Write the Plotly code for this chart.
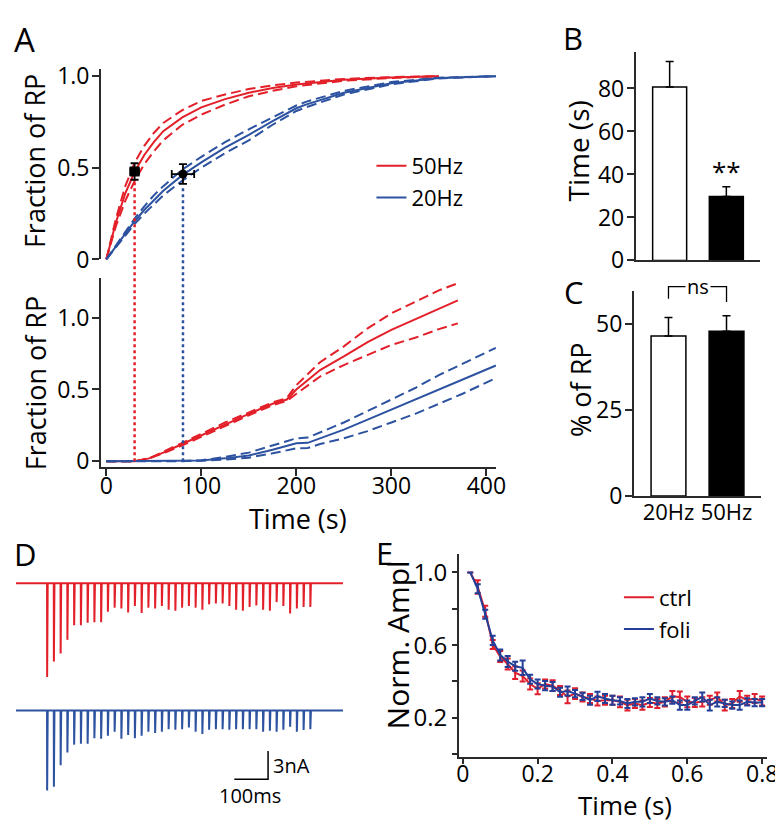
import plotly.graph_objects as go

W, H = 783, 826
FONT = "Open Sans"
RED = "#e3202a"
BLUE = "#2c52a0"
E_RED = "#df1f2d"
E_BLUE = "#233f98"
AX = "#2a2a2a"

# ---------------- DATA ----------------
# Panel A (top): cumulative fraction of RP released (mean, +SEM, -SEM)
a_top_t_50 = [0, 10, 20, 30, 40, 50, 60, 80, 100, 125, 150, 175, 200, 250, 300, 350]
a_top_mean_50 = [0, 0.20, 0.36, 0.48, 0.57, 0.64, 0.70, 0.775, 0.83, 0.875, 0.91, 0.935, 0.955, 0.98, 0.993, 1.0]
a_top_hi_50 = [0, 0.22, 0.40, 0.53, 0.62, 0.69, 0.745, 0.815, 0.865, 0.90, 0.93, 0.95, 0.965, 0.985, 0.995, 1.0]
a_top_lo_50 = [0, 0.18, 0.32, 0.43, 0.52, 0.59, 0.65, 0.735, 0.79, 0.845, 0.89, 0.92, 0.945, 0.975, 0.99, 1.0]

a_top_t_20 = [0, 10, 20, 30, 40, 50, 60, 80, 100, 125, 150, 175, 200, 210, 250, 300, 350, 410]
a_top_mean_20 = [0, 0.07, 0.14, 0.21, 0.27, 0.325, 0.375, 0.46, 0.53, 0.61, 0.68, 0.755, 0.825, 0.845, 0.91, 0.962, 0.99, 1.0]
a_top_hi_20 = [0, 0.075, 0.15, 0.225, 0.29, 0.35, 0.40, 0.49, 0.56, 0.64, 0.71, 0.775, 0.84, 0.86, 0.92, 0.968, 0.992, 1.0]
a_top_lo_20 = [0, 0.065, 0.13, 0.195, 0.25, 0.30, 0.35, 0.43, 0.50, 0.58, 0.65, 0.735, 0.81, 0.83, 0.90, 0.956, 0.988, 1.0]

# Panel A (bottom)
a_bot_t_50 = [0, 30, 45, 60, 80, 100, 125, 150, 175, 190, 200, 225, 250, 275, 300, 325, 350, 370]
a_bot_mean_50 = [0, 0, 0.02, 0.06, 0.12, 0.18, 0.26, 0.33, 0.40, 0.43, 0.50, 0.635, 0.73, 0.83, 0.915, 0.99, 1.06, 1.12]
a_bot_hi_50 = [0, 0, 0.02, 0.065, 0.13, 0.19, 0.27, 0.34, 0.41, 0.44, 0.53, 0.69, 0.80, 0.925, 1.03, 1.11, 1.19, 1.24]
a_bot_lo_50 = [0, 0, 0.02, 0.055, 0.11, 0.17, 0.25, 0.32, 0.39, 0.42, 0.47, 0.59, 0.67, 0.74, 0.81, 0.86, 0.92, 0.96]

a_bot_t_20 = [0, 80, 100, 125, 150, 175, 200, 212, 225, 250, 275, 300, 325, 350, 375, 410]
a_bot_mean_20 = [0, 0, 0.005, 0.02, 0.04, 0.08, 0.125, 0.128, 0.16, 0.22, 0.29, 0.36, 0.43, 0.50, 0.57, 0.667]
a_bot_hi_20 = [0, 0, 0.007, 0.03, 0.06, 0.11, 0.16, 0.165, 0.20, 0.27, 0.35, 0.43, 0.51, 0.60, 0.68, 0.79]
a_bot_lo_20 = [0, 0, 0.003, 0.012, 0.025, 0.055, 0.09, 0.092, 0.12, 0.16, 0.21, 0.27, 0.33, 0.40, 0.47, 0.58]

# Half-release points / panels B and C
freq_labels = ["20Hz", "50Hz"]
half_time = [80.7, 29.8]
half_time_sem = [11.8, 4.5]
pct_rp = [46.6, 48.0]
pct_rp_sem = [5.4, 4.5]

# Panel D: EPSC amplitudes (nA), 40 stimuli at 50 Hz
stim_interval_ms = 20
ctrl_amp_nA = [10.0, 8.35, 7.48, 6.03, 4.48, 4.48, 4.21, 4.14, 4.14, 3.03,
               2.59, 2.69, 3.10, 2.41, 3.17, 2.59, 2.69, 2.41, 2.82, 2.93,
               2.59, 2.41, 2.59, 2.82, 2.24, 2.14, 2.14, 2.41, 2.82, 2.93,
               2.51, 2.35, 2.82, 2.93, 2.00, 2.41, 3.21, 2.69, 2.51, 2.51]
foli_amp_nA = [8.55, 8.14, 5.86, 4.48, 3.65, 3.55, 3.55, 2.97, 3.03, 2.69,
               2.28, 3.03, 2.62, 2.97, 2.69, 2.28, 2.41, 2.28, 2.00, 2.07,
               2.00, 1.83, 2.28, 2.51, 2.07, 2.00, 2.00, 2.07, 2.00, 2.00,
               2.00, 2.00, 2.28, 2.17, 2.28, 2.07, 1.73, 2.28, 2.10, 2.00]
sweep_start_ms, sweep_end_ms = -92, 877
scalebar_ms, scalebar_nA = 100, 3

# Panel E: normalized amplitude
e_time = [0.02, 0.04, 0.06, 0.08, 0.10, 0.12, 0.14, 0.16, 0.18, 0.20,
          0.22, 0.24, 0.26, 0.28, 0.30, 0.32, 0.34, 0.36, 0.38, 0.40,
          0.42, 0.44, 0.46, 0.48, 0.50, 0.52, 0.54, 0.56, 0.58, 0.60,
          0.62, 0.64, 0.66, 0.68, 0.70, 0.72, 0.74, 0.76, 0.78, 0.80]
ctrl_norm = [1.00, 0.92, 0.786, 0.603, 0.537, 0.496, 0.448, 0.43, 0.386, 0.36,
             0.386, 0.377, 0.35, 0.315, 0.333, 0.315, 0.306, 0.293, 0.297, 0.297,
             0.288, 0.27, 0.279, 0.27, 0.284, 0.279, 0.288, 0.318, 0.315, 0.288,
             0.284, 0.288, 0.297, 0.315, 0.27, 0.279, 0.318, 0.297, 0.306, 0.293]
ctrl_sem = [0, 0.037, 0.03, 0.025, 0.03, 0.03, 0.035, 0.03, 0.03, 0.03,
            0.025, 0.03, 0.025, 0.035, 0.03, 0.025, 0.025, 0.025, 0.025, 0.025,
            0.03, 0.03, 0.025, 0.025, 0.025, 0.025, 0.025, 0.03, 0.03, 0.03,
            0.025, 0.025, 0.025, 0.025, 0.03, 0.025, 0.03, 0.025, 0.025, 0.025]
foli_norm = [1.00, 0.91, 0.77, 0.626, 0.546, 0.51, 0.484, 0.475, 0.412, 0.386,
             0.377, 0.372, 0.341, 0.347, 0.333, 0.318, 0.297, 0.318, 0.306, 0.297,
             0.293, 0.279, 0.288, 0.288, 0.306, 0.293, 0.288, 0.297, 0.27, 0.27,
             0.293, 0.315, 0.27, 0.288, 0.279, 0.27, 0.27, 0.288, 0.284, 0.284]
foli_sem = [0, 0.025, 0.025, 0.025, 0.03, 0.03, 0.025, 0.04, 0.025, 0.025,
            0.025, 0.025, 0.025, 0.025, 0.02, 0.02, 0.025, 0.025, 0.025, 0.025,
            0.02, 0.025, 0.02, 0.025, 0.025, 0.02, 0.02, 0.02, 0.025, 0.025,
            0.02, 0.025, 0.03, 0.025, 0.02, 0.02, 0.025, 0.02, 0.02, 0.02]

# ---------------- LAYOUT GEOMETRY (pixels) ----------------
def pxx(x):
    return x / W


def pxy(y):
    return 1 - y / H


A_XPX = (91.5, 494)
A_XR = [-5.7, 410.3]
A_TOP_YPX = (249, 53)
A_TOP_YR = [0, 1.037]
A_BOT_YPX = (463, 268)
A_BOT_YR = [-0.04, 1.277]
B_XPX, B_YPX, B_XR, B_YR = (636, 763), (250, 35), [-0.6, 1.6], [0, 97]
C_XPX, C_YPX, C_XR, C_YR = (634, 764), (493, 282), [-0.6, 1.6], [0, 59.6]
D_XPX = (0, 345)
D_XR = [-106.8, 897.3]
D1_YPX, D1_YR = (690, 570), [-11.07, 1.344]
D2_YPX, D2_YR = (826, 700), [-11.58, 1.448]
E_XPX, E_XR = (456, 770), [-0.0105, 0.8136]
E_YPX, E_YR = (762, 553), [-0.015, 1.0997]


def dom_x(p):
    return [pxx(p[0]), pxx(p[1])]


def dom_y(p):
    return [pxy(p[0]), pxy(p[1])]


def to_paper(v, rng, dom):
    return dom[0] + (v - rng[0]) / (rng[1] - rng[0]) * (dom[1] - dom[0])


fig = go.Figure()


# ---- Panel A ----
def band(t, m, hi, lo, color, name, xa, ya, legend_on):
    for y, dash, show in ((hi, "10px,5px", False), (lo, "10px,5px", False), (m, "solid", legend_on)):
        fig.add_trace(go.Scatter(x=t, y=y, mode="lines", xaxis=xa, yaxis=ya,
                                 line=dict(color=color, width=2, dash=dash),
                                 name=name, showlegend=show, legend="legend",
                                 hoverinfo="skip"))


band(a_top_t_50, a_top_mean_50, a_top_hi_50, a_top_lo_50, RED, "50Hz", "x", "y", True)
band(a_top_t_20, a_top_mean_20, a_top_hi_20, a_top_lo_20, BLUE, "20Hz", "x", "y", True)
band(a_bot_t_50, a_bot_mean_50, a_bot_hi_50, a_bot_lo_50, RED, "50Hz", "x2", "y2", False)
band(a_bot_t_20, a_bot_mean_20, a_bot_hi_20, a_bot_lo_20, BLUE, "20Hz", "x2", "y2", False)

frac_half = [p / 100 for p in pct_rp]
frac_half_sem = [p / 100 for p in pct_rp_sem]
for i, sym in ((1, "square"), (0, "circle")):
    fig.add_trace(go.Scatter(
        x=[half_time[i]], y=[frac_half[i]], mode="markers", xaxis="x", yaxis="y",
        marker=dict(symbol=sym, size=10 if sym == "square" else 9, color="black"),
        error_x=dict(type="data", array=[half_time_sem[i]], color="black", thickness=1.8, width=4),
        error_y=dict(type="data", array=[frac_half_sem[i]], color="black", thickness=1.8, width=4),
        showlegend=False, hoverinfo="skip", cliponaxis=False))

# dotted drop lines spanning both A panels
shapes = []
top_dom = dom_y(A_TOP_YPX)
bot_dom = dom_y(A_BOT_YPX)
xdom = dom_x(A_XPX)
for i, col in ((1, RED), (0, BLUE)):
    xp = to_paper(half_time[i], A_XR, xdom)
    y_top = to_paper(frac_half[i] - frac_half_sem[i] - 0.01, A_TOP_YR, top_dom)
    y_bot = to_paper(0, A_BOT_YR, bot_dom)
    shapes.append(dict(type="line", xref="paper", yref="paper", x0=xp, x1=xp, y0=y_bot, y1=y_top,
                       line=dict(color=col, width=2.5, dash="3px,3px")))

# ---- Panel B ----
fig.add_trace(go.Bar(x=freq_labels, y=half_time, xaxis="x3", yaxis="y3", width=0.6,
                     marker=dict(color=["white", "black"], line=dict(color="black", width=1.5)),
                     error_y=dict(type="data", array=half_time_sem, arrayminus=[0, 0], symmetric=False,
                                  color="black", thickness=1.5, width=4),
                     showlegend=False, hoverinfo="skip"))
# ---- Panel C ----
fig.add_trace(go.Bar(x=freq_labels, y=pct_rp, xaxis="x4", yaxis="y4", width=0.6,
                     marker=dict(color=["white", "black"], line=dict(color="black", width=1.5)),
                     error_y=dict(type="data", array=pct_rp_sem, arrayminus=[0, 0], symmetric=False,
                                  color="black", thickness=1.5, width=4),
                     showlegend=False, hoverinfo="skip"))

# ns bracket (paper coordinates derived from axis C mapping)
cx = dom_x(C_XPX)
cy = dom_y(C_YPX)
tops = [m + s for m, s in zip(pct_rp, pct_rp_sem)]
br_top = max(tops) + 8.5
legs = [t + 5.5 for t in tops]
bx = [to_paper(i, C_XR, cx) for i in (0, 1)]
br_top_p = to_paper(br_top, C_YR, cy)
shapes.append(dict(type="path", xref="paper", yref="paper",
                   path="M {},{} L {},{} L {},{} L {},{}".format(
                       bx[0], to_paper(legs[0], C_YR, cy), bx[0], br_top_p,
                       bx[1], br_top_p, bx[1], to_paper(legs[1] - 1.5, C_YR, cy)),
                   line=dict(color="black", width=1.3)))


# ---- Panel D ----
def sweep(amps):
    xs, ys = [sweep_start_ms], [0]
    for i, a in enumerate(amps):
        t = i * stim_interval_ms
        xs += [t, t + 0.3, t + 2.0]
        ys += [0, -a, 0]
    xs.append(sweep_end_ms)
    ys.append(0)
    return xs, ys


xs, ys = sweep(ctrl_amp_nA)
fig.add_trace(go.Scatter(x=xs, y=ys, mode="lines", xaxis="x5", yaxis="y5",
                         line=dict(color=RED, width=2), showlegend=False, hoverinfo="skip"))
xs, ys = sweep(foli_amp_nA)
fig.add_trace(go.Scatter(x=xs, y=ys, mode="lines", xaxis="x6", yaxis="y6",
                         line=dict(color=BLUE, width=2), showlegend=False, hoverinfo="skip"))
# scale bar (in blue sweep coordinates)
sb_x1 = 655
sb_y0 = -7.34
fig.add_trace(go.Scatter(x=[sb_x1 - scalebar_ms, sb_x1, sb_x1], y=[sb_y0, sb_y0, sb_y0 + scalebar_nA],
                         mode="lines", xaxis="x6", yaxis="y6", line=dict(color="black", width=1.5),
                         showlegend=False, hoverinfo="skip"))

# ---- Panel E ----
fig.add_trace(go.Scatter(x=e_time, y=ctrl_norm, mode="lines", xaxis="x7", yaxis="y7",
                         line=dict(color=E_RED, width=2), name="ctrl", legend="legend2",
                         error_y=dict(type="data", array=ctrl_sem, color=E_RED, thickness=2, width=3),
                         hoverinfo="skip"))
fig.add_trace(go.Scatter(x=e_time, y=foli_norm, mode="lines", xaxis="x7", yaxis="y7",
                         line=dict(color=E_BLUE, width=2), name="foli", legend="legend2",
                         error_y=dict(type="data", array=foli_sem, color=E_BLUE, thickness=2, width=3),
                         hoverinfo="skip"))

# ---------------- AXES ----------------
tickfont = dict(family=FONT, size=23, color="black")
common = dict(showline=True, linecolor=AX, linewidth=1.5, ticks="outside", ticklen=7,
              tickwidth=1.5, tickcolor=AX, showgrid=False, zeroline=False, tickfont=tickfont,
              fixedrange=True)
hidden = dict(visible=False, fixedrange=True, showgrid=False, zeroline=False)

layout = dict(
    width=W, height=H, autosize=False, margin=dict(l=0, r=0, t=0, b=0),
    paper_bgcolor="white", plot_bgcolor="white", font=dict(family=FONT, color="black"),
    xaxis=dict(hidden, domain=dom_x(A_XPX), range=A_XR, anchor="y"),
    yaxis=dict(common, domain=dom_y(A_TOP_YPX), range=A_TOP_YR, anchor="x",
               tickvals=[0, 0.5, 1.0], ticktext=["0", "0.5", "1.0"], ticklabelstandoff=-2),
    xaxis2=dict(common, domain=dom_x(A_XPX), range=A_XR, anchor="y2",
                tickvals=[0, 100, 200, 300, 400], ticklabelstandoff=-9),
    yaxis2=dict(common, domain=dom_y(A_BOT_YPX), range=A_BOT_YR, anchor="x2",
                tickvals=[0, 0.5, 1.0], ticktext=["0", "0.5", "1.0"], ticklabelstandoff=-2),
    xaxis3=dict(common, domain=dom_x(B_XPX), range=B_XR, anchor="y3", ticks="",
                showticklabels=False, type="category"),
    yaxis3=dict(common, domain=dom_y(B_YPX), range=B_YR, anchor="x3", tickvals=[0, 20, 40, 60, 80],
                ticklabelstandoff=-2),
    xaxis4=dict(common, domain=dom_x(C_XPX), range=C_XR, anchor="y4", ticks="", type="category",
                tickangle=0, ticklabelstandoff=-4,
                tickfont=dict(family=FONT, size=22, color="black")),
    yaxis4=dict(common, domain=dom_y(C_YPX), range=C_YR, anchor="x4", tickvals=[0, 25, 50],
                ticklabelstandoff=-2),
    xaxis5=dict(hidden, domain=dom_x(D_XPX), range=D_XR, anchor="y5"),
    yaxis5=dict(hidden, domain=dom_y(D1_YPX), range=D1_YR, anchor="x5"),
    xaxis6=dict(hidden, domain=dom_x(D_XPX), range=D_XR, anchor="y6"),
    yaxis6=dict(hidden, domain=dom_y(D2_YPX), range=D2_YR, anchor="x6"),
    xaxis7=dict(common, domain=dom_x(E_XPX), range=E_XR, anchor="y7", ticklen=5,
                tickvals=[0, 0.2, 0.4, 0.6, 0.8], ticktext=["0", "0.2", "0.4", "0.6", "0.8"],
                ticklabelstandoff=-9, tickfont=dict(family=FONT, size=23, color="black")),
    yaxis7=dict(common, domain=dom_y(E_YPX), range=E_YR, anchor="x7", ticklen=5,
                tickvals=[0, 0.2, 0.4, 0.6, 0.8, 1.0], ticktext=["", "0.2", "", "0.6", "", "1.0"],
                tickfont=dict(family=FONT, size=24, color="black")),
    legend=dict(x=pxx(367), y=pxy(131), xanchor="left", yanchor="top",
                font=dict(family=FONT, size=22, color="black"), bgcolor="rgba(0,0,0,0)",
                tracegroupgap=0, itemwidth=30),
    legend2=dict(x=pxx(619), y=pxy(576), xanchor="left", yanchor="top",
                 font=dict(family=FONT, size=22, color="black"), bgcolor="rgba(0,0,0,0)",
                 tracegroupgap=0, itemwidth=30),
    shapes=shapes,
    hovermode=False,
)
fig.update_layout(**layout)

# ---------------- TEXT ----------------
ann = []


def label(text, x, y, size, angle=0, xanchor="center", **kw):
    ann.append(dict(text=text, x=pxx(x), y=pxy(y), xref="paper", yref="paper", showarrow=False,
                    textangle=angle, xanchor=xanchor, yanchor="middle",
                    font=dict(family=FONT, size=size, color="black"), **kw))


# panel letters
label("A", 1, 22, 33, xanchor="left")
label("B", 560, 21, 31, xanchor="left")
label("C", 561, 283, 31, xanchor="left")
label("D", 1, 553, 31, xanchor="left")
label("E", 370, 552, 31, xanchor="left")
# axis titles
label("Fraction of RP", 24, 148, 27, angle=-90)
label("Fraction of RP", 25, 377, 27, angle=-90)
label("Time (s)", 292, 516, 27)
label("Time (s)", 577, 137, 28, angle=-90)
label("% of RP", 580, 383, 27, angle=-90)
label("Norm. Ampl", 393, 646, 30, angle=-90)
label("Time (s)", 625, 812, 26)
# significance marks
label("ns", (bx[0] + bx[1]) / 2 * W, (1 - br_top_p) * H, 20, bgcolor="white", borderpad=1)
fig.update_layout(annotations=ann)

fig.add_annotation(text="**", x=freq_labels[1], y=half_time[1] + half_time_sem[1] + 7.5, xref="x3", yref="y3",
                   showarrow=False, font=dict(family=FONT, size=26, color="black"))
# scale bar labels
fig.add_annotation(text=f"{scalebar_nA}nA", x=sb_x1 + 8, y=sb_y0 + scalebar_nA * 0.5, xref="x6", yref="y6",
                   xanchor="left", showarrow=False, font=dict(family=FONT, size=20, color="black"))
fig.add_annotation(text=f"{scalebar_ms}ms", x=sb_x1 - scalebar_ms * 0.55, y=sb_y0 - 1.75, xref="x6", yref="y6",
                   showarrow=False, font=dict(family=FONT, size=20, color="black"))

fig.write_html("out.html")
